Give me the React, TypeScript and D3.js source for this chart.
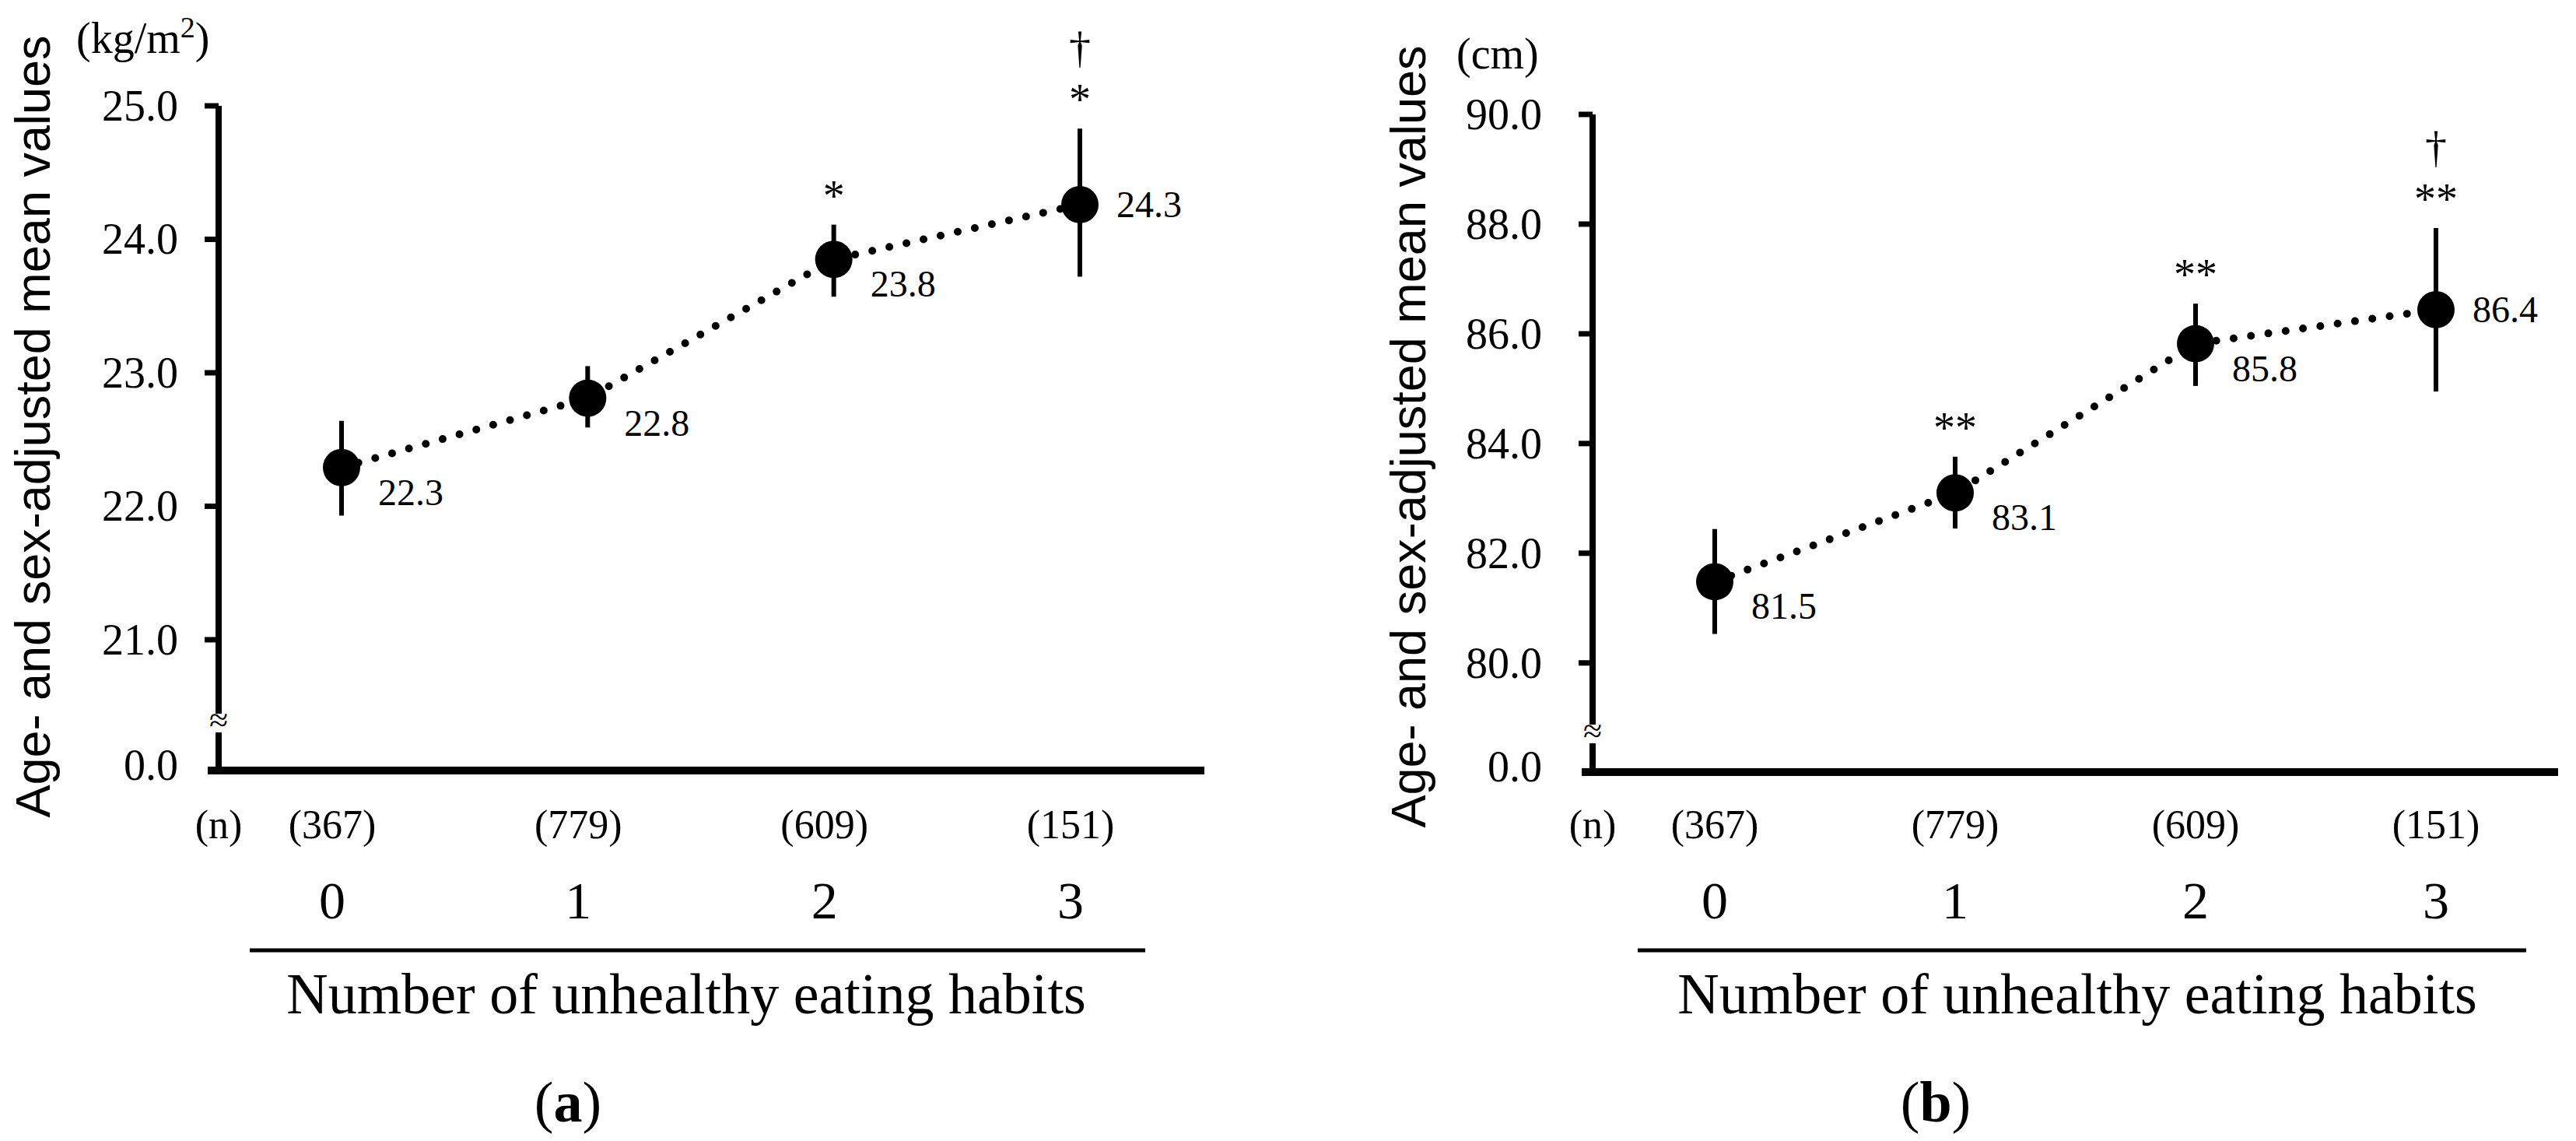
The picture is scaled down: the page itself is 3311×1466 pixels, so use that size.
import React from 'react';
import * as d3 from 'd3';

// ---------- data ----------
const categories = ['0', '1', '2', '3'];
const sampleSizes = ['(367)', '(779)', '(609)', '(151)'];

const bmiMean = [22.29, 22.81, 23.85, 24.26];
const bmiLower = [21.93, 22.59, 23.57, 23.72];
const bmiUpper = [22.64, 23.05, 24.11, 24.83];
const bmiLabels = ['22.3', '22.8', '23.8', '24.3'];
const bmiSig = ['', '', '*', '*'];
const bmiTrend = ['', '', '', '†'];
const bmiTicks = [21, 22, 23, 24, 25];

const waistMean = [81.48, 83.1, 85.82, 86.44];
const waistLower = [80.53, 82.45, 85.05, 84.95];
const waistUpper = [82.44, 83.76, 86.55, 87.93];
const waistLabels = ['81.5', '83.1', '85.8', '86.4'];
const waistSig = ['', '**', '**', '**'];
const waistTrend = ['', '', '', '†'];
const waistTicks = [80, 82, 84, 86, 88, 90];

const yTitle = 'Age- and sex-adjusted mean values';
const xTitle = 'Number of unhealthy eating habits';

const SERIF = "'Liberation Serif', 'Times New Roman', serif";
const SANS = "'Liberation Sans', Arial, sans-serif";

type PanelProps = {
  mean: number[];
  lower: number[];
  upper: number[];
  labels: string[];
  sig: string[];
  trend: string[];
  ticks: number[];
  domain: [number, number];
  unit: React.ReactNode;
  panelLetter: string;
  L: {
    axisX: number; top: number; bottom: number; xRange: [number, number]; xAxisEnd: number;
    labelGap: number; unitX: number; unitY: number; titleX: number; titleY: number;
    catOffset: number; underline: [number, number]; xTitleCenter: number; panelLabelX: number; breakY: number;
  };
};

function Panel({ mean, lower, upper, labels, sig, trend, ticks, domain, unit, panelLetter, L }: PanelProps) {
  const y = d3.scaleLinear().domain(domain).range([L.bottom, L.top]);
  const x = d3.scalePoint<string>().domain(categories).range(L.xRange);
  const pts = categories.map((c, i) => [x(c) as number, y(mean[i])] as [number, number]);
  const line = d3.line()(pts) as string;
  const fmt = d3.format('.1f');

  return (
    <g>
      {/* y title */}
      <text
        transform={`translate(${L.titleX},${L.titleY}) rotate(-90)`}
        textAnchor="middle"
        fontFamily={SANS}
        fontSize={63}
        fill="#000"
      >
        {yTitle}
      </text>
      {/* unit */}
      <text x={L.unitX} y={L.unitY} fontFamily={SERIF} fontSize={56} fill="#000">
        {unit}
      </text>

      {/* y axis with break */}
      <line x1={L.axisX} x2={L.axisX} y1={L.top} y2={L.breakY - 12} stroke="#000" strokeWidth={8} />
      <line x1={L.axisX} x2={L.axisX} y1={L.breakY + 12} y2={L.bottom} stroke="#000" strokeWidth={8} />
      <text x={L.axisX} y={L.breakY + 11} textAnchor="middle" fontFamily={SERIF} fontSize={44} fill="#000">≈</text>

      {ticks.map((t) => (
        <g key={t}>
          <line x1={L.axisX - 18} x2={L.axisX} y1={y(t)} y2={y(t)} stroke="#000" strokeWidth={7} />
          <text x={L.axisX - L.labelGap} y={y(t) + 19} textAnchor="end" fontFamily={SERIF} fontSize={56} fill="#000">
            {fmt(t)}
          </text>
        </g>
      ))}
      <text x={L.axisX - L.labelGap} y={L.bottom + 12} textAnchor="end" fontFamily={SERIF} fontSize={56} fill="#000">
        {fmt(0)}
      </text>

      {/* x axis */}
      <line x1={L.axisX - 14} x2={L.xAxisEnd} y1={L.bottom} y2={L.bottom} stroke="#000" strokeWidth={10} />

      {/* dotted line */}
      <path d={line} fill="none" stroke="#000" strokeWidth={10} strokeLinecap="round" strokeDasharray="0 22.5" />

      {/* error bars and markers */}
      {categories.map((c, i) => {
        const px = x(c) as number;
        const py = y(mean[i]);
        const yu = y(upper[i]);
        const starY = yu - 46;
        return (
          <g key={c}>
            <line x1={px} x2={px} y1={y(lower[i])} y2={yu} stroke="#000" strokeWidth={6} />
            <circle cx={px} cy={py} r={24} fill="#000" />
            <text
              x={px + 47}
              y={(i === categories.length - 1 ? py : py + 32) + 16}
              fontFamily={SERIF}
              fontSize={48}
              fill="#000"
            >
              {labels[i]}
            </text>
            {sig[i] && (
              <text x={px} y={starY + 28} textAnchor="middle" fontFamily={SERIF} fontSize={56} fill="#000">
                {sig[i]}
              </text>
            )}
            {trend[i] && (
              <text x={px} y={starY - 54 + 15} textAnchor="middle" fontFamily={SERIF} fontSize={56} fill="#000">
                {trend[i]}
              </text>
            )}
          </g>
        );
      })}

      {/* n row */}
      <text x={L.axisX} y={1077} textAnchor="middle" fontFamily={SERIF} fontSize={52} fill="#000">(n)</text>
      {categories.map((c, i) => (
        <g key={'n' + c}>
          <text x={(x(c) as number) + L.catOffset} y={1077} textAnchor="middle" fontFamily={SERIF} fontSize={52} fill="#000">
            {sampleSizes[i]}
          </text>
          <text x={(x(c) as number) + L.catOffset} y={1180} textAnchor="middle" fontFamily={SERIF} fontSize={68} fill="#000">
            {c}
          </text>
        </g>
      ))}

      <line x1={L.underline[0]} x2={L.underline[1]} y1={1221} y2={1221} stroke="#000" strokeWidth={5} />
      <text x={L.xTitleCenter} y={1302} textAnchor="middle" fontFamily={SERIF} fontSize={74} fill="#000">
        {xTitle}
      </text>

      <text x={L.panelLabelX} y={1441} textAnchor="middle" fontFamily={SERIF} fontSize={74} fill="#000">
        (<tspan fontWeight="bold">{panelLetter}</tspan>)
      </text>
    </g>
  );
}

export default function App() {
  return (
    <svg
      width={3311}
      height={1466}
      viewBox="0 0 3311 1466"
      style={{ position: 'absolute', left: 0, top: 0, background: '#fff' }}
    >
      <rect x={0} y={0} width={3311} height={1466} fill="#fff" />
      <Panel
        mean={bmiMean}
        lower={bmiLower}
        upper={bmiUpper}
        labels={bmiLabels}
        sig={bmiSig}
        trend={bmiTrend}
        ticks={bmiTicks}
        domain={[20.02, 25]}
        unit={<>(kg/m<tspan fontSize={38} dy={-20}>2</tspan><tspan dy={20}>)</tspan></>}
        panelLetter="a"
        L={{
          axisX: 281, top: 136, bottom: 990, xRange: [439, 1388], xAxisEnd: 1548,
          labelGap: 52, unitX: 98, unitY: 68, titleX: 64, titleY: 548,
          catOffset: -12, underline: [321, 1472], xTitleCenter: 882, panelLabelX: 730, breakY: 929,
        }}
      />
      <Panel
        mean={waistMean}
        lower={waistLower}
        upper={waistUpper}
        labels={waistLabels}
        sig={waistSig}
        trend={waistTrend}
        ticks={waistTicks}
        domain={[78.01, 90]}
        unit={<>(cm)</>}
        panelLetter="b"
        L={{
          axisX: 2047, top: 147, bottom: 992, xRange: [2204, 3131], xAxisEnd: 3288,
          labelGap: 65, unitX: 1872, unitY: 88, titleX: 1832, titleY: 561,
          catOffset: 0, underline: [2105, 3247], xTitleCenter: 2670, panelLabelX: 2488, breakY: 943,
        }}
      />
    </svg>
  );
}
